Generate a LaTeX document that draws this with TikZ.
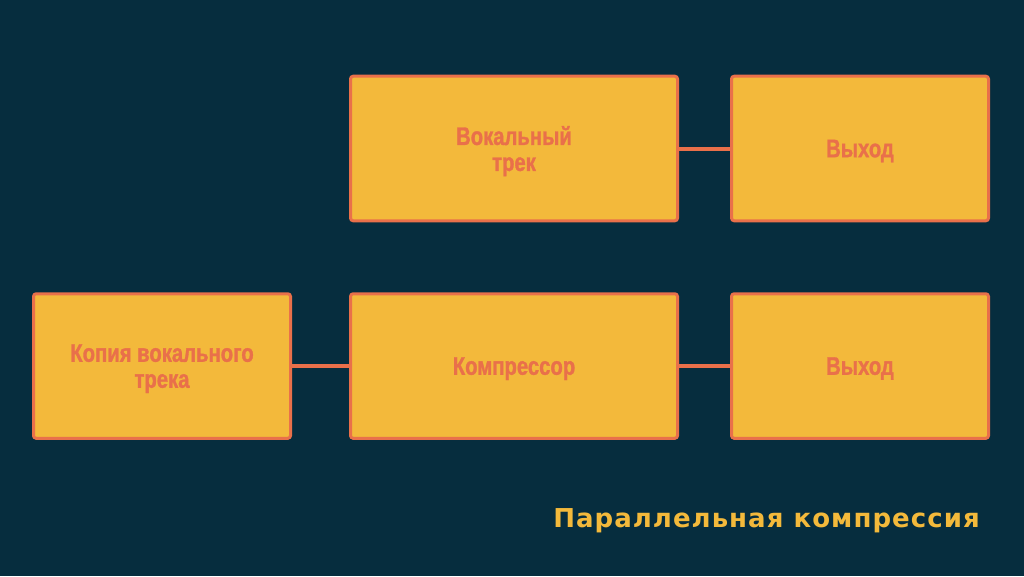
\documentclass[tikz,border=0pt]{standalone}
\usepackage{fontspec}
\usetikzlibrary{positioning}
\newfontfamily\boxfont[FakeStretch=0.8, FakeBold=1.2]{Liberation Sans}
\newfontfamily\titlefont[LetterSpace=4]{DejaVu Sans}
\definecolor{deepteal}{HTML}{062D3E}
\definecolor{boxyellow}{HTML}{F3B93B}
\definecolor{coral}{HTML}{E9704A}

\begin{document}
\begin{tikzpicture}[x=0.75pt, y=-0.75pt,
  stage/.style={rectangle, draw=coral, line width=2.25pt, fill=boxyellow,
    rounded corners=2pt, minimum height=108.4pt, outer sep=0pt, text=coral,
    text depth=0pt, align=center,
    font=\boxfont\bfseries\fontsize{19}{19.5}\selectfont},
  wide/.style={stage, minimum width=245.25pt},
  narrow/.style={stage, minimum width=192.75pt},
  wire/.style={draw=coral, line width=3pt},
]
  \fill[deepteal] (0,0) rectangle (1024,576);
  \useasboundingbox (0,0) rectangle (1024,576);

  \node[wide] (vocal) at (514,148.5) {Вокальный\\трек};
  \node[narrow, right=40.5pt of vocal] (out1) {Выход};
  \node[wide, below=54.75pt of vocal] (comp) {Компрессор};
  \node[narrow, right=40.5pt of comp] (out2) {Выход};
  \node[narrow, left=45pt of comp] (copy) {Копия вокального\\трека};

  \draw[wire] (vocal) -- (out1);
  \draw[wire] (copy) -- (comp);
  \draw[wire] (comp) -- (out2);

  \node[anchor=base east, text=boxyellow, inner sep=0pt,
    font=\titlefont\bfseries\fontsize{19.5}{22}\selectfont] (title)
    at (980,527) {Параллельная компрессия};
\end{tikzpicture}
\end{document}
